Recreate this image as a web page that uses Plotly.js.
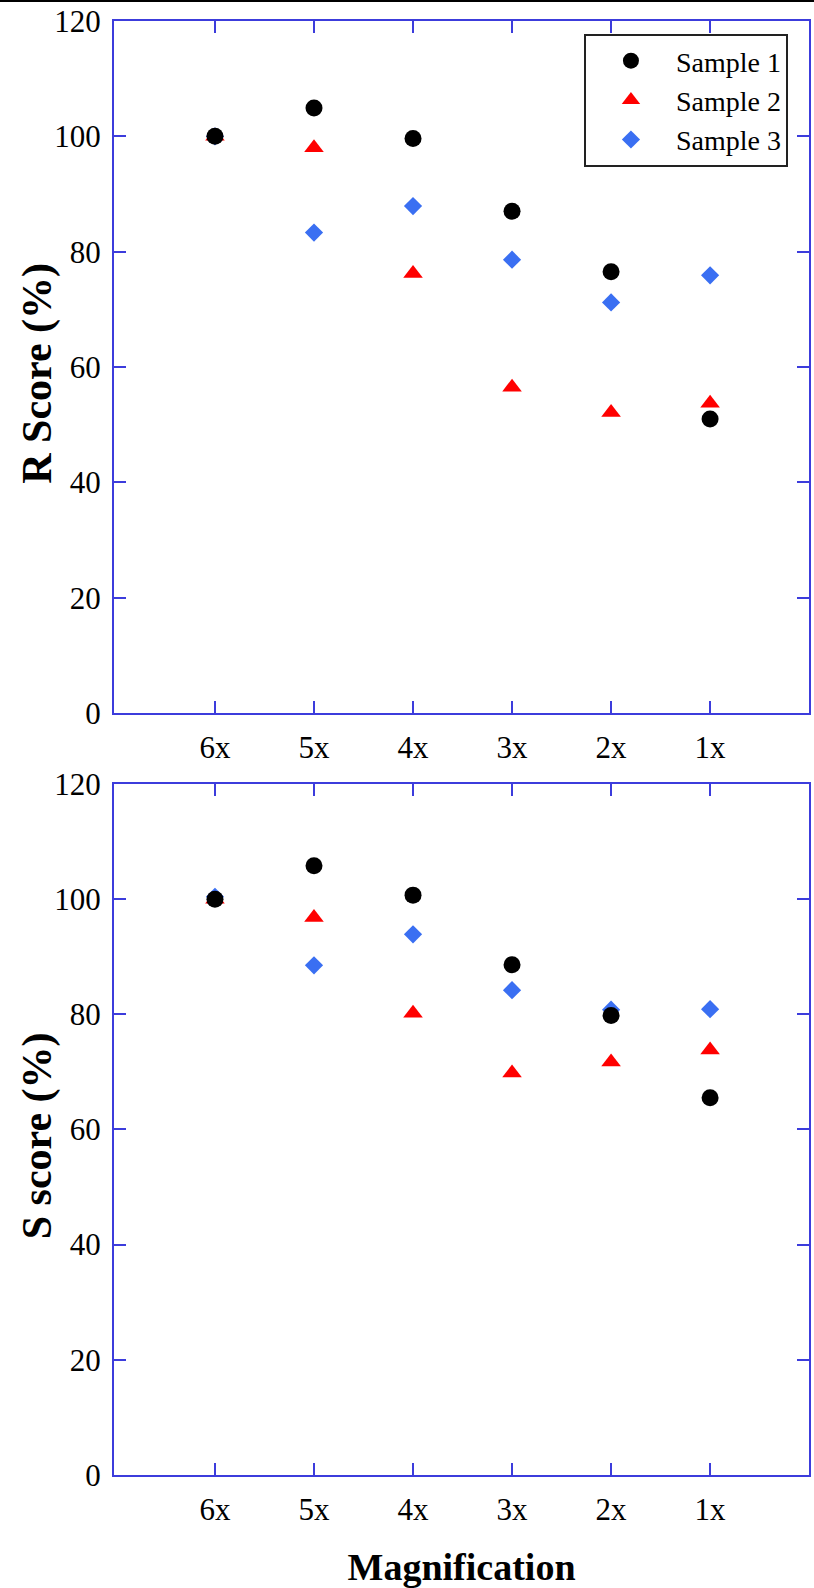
<!DOCTYPE html>
<html>
<head>
<meta charset="utf-8">
<script src="https://cdn.plot.ly/plotly-3.0.1.min.js"></script>
<style>
  html, body { margin: 0; padding: 0; background: #fff; }
  #graph { width: 814px; height: 1588px; }
</style>
</head>
<body>
<div id="graph"></div>
<script>
const magnifications = ["6x", "5x", "4x", "3x", "2x", "1x"]
const sampleNames = ["Sample 1", "Sample 2", "Sample 3"]

// R score (%) – upper panel
const rSample1 = [100, 104.9, 99.6, 87.0, 76.5, 51.0]
const rSample2 = [100, 98.0, 76.2, 56.5, 52.1, 53.7]
const rSample3 = [100, 83.3, 87.9, 78.6, 71.2, 75.9]

// S score (%) – lower panel
const sSample1 = [100, 105.8, 100.7, 88.6, 79.8, 65.5]
const sSample2 = [100, 96.8, 80.2, 69.8, 71.7, 73.8]
const sSample3 = [100.4, 88.5, 93.9, 84.2, 80.8, 80.9]

const yTicks = [0, 20, 40, 60, 80, 100, 120]

const serif = "Liberation Serif, Times New Roman, serif"
const frameBlue = "#3c3cdc"

const topDomain = [0.551, 0.9868]
const bottomDomain = [0.0712, 0.5063]

const markerStyles = [
  { symbol: "circle", color: "#000000", size: 17 },
  { symbol: "triangle-up", color: "#ff0000", size: 17 },
  { symbol: "diamond", color: "#3a6ff2", size: 14 },
]

function makeTraces(series, xa, ya, inLegend) {
  const traces = []
  // drawn 3, 2, 1 so the black circles sit on top
  for (let i = series.length - 1; i >= 0; i--) {
    const st = markerStyles[i]
    traces.push({
      x: magnifications,
      y: series[i],
      xaxis: xa,
      yaxis: ya,
      type: "scatter",
      mode: "markers",
      name: sampleNames[i],
      legendgroup: sampleNames[i],
      showlegend: inLegend,
      marker: { symbol: st.symbol, color: st.color, size: st.size, line: { width: 0 } },
      cliponaxis: false,
    })
  }
  return traces
}

const data = [
  ...makeTraces([rSample1, rSample2, rSample3], "x", "y", true),
  ...makeTraces([sSample1, sSample2, sSample3], "x2", "y2", false),
]

function xAxis(domain, anchor, title) {
  const ax = {
    domain: domain,
    anchor: anchor,
    type: "category",
    range: [-1.02, 6],
    showgrid: false,
    zeroline: false,
    showline: true,
    linecolor: frameBlue,
    linewidth: 2,
    mirror: "ticks",
    ticks: "inside",
    ticklen: 12,
    tickwidth: 2,
    tickcolor: frameBlue,
    ticklabelstandoff: 6,
    tickfont: { family: serif, size: 31, color: "#000" },
    fixedrange: true,
  }
  if (title) {
    ax.title = { text: title, font: { family: serif, size: 38, color: "#000", weight: "bold" }, standoff: 36 }
  }
  return ax
}

function yAxis(domain, anchor) {
  return {
    domain: domain,
    anchor: anchor,
    range: [0, 120],
    tickvals: yTicks,
    showgrid: false,
    zeroline: false,
    showline: true,
    linecolor: frameBlue,
    linewidth: 2,
    mirror: "ticks",
    ticks: "inside",
    ticklen: 12,
    tickwidth: 2,
    tickcolor: frameBlue,
    ticklabelstandoff: 5,
    tickfont: { family: serif, size: 31, color: "#000" },
    fixedrange: true,
  }
}

// y titles as rotated annotations so they sit close to the tick labels
function yTitle(text, domain) {
  return {
    text: text,
    xref: "paper",
    yref: "paper",
    x: 0.046,
    y: (domain[0] + domain[1]) / 2 - 0.004,
    xanchor: "center",
    yanchor: "middle",
    textangle: -90,
    showarrow: false,
    font: { family: serif, size: 42, color: "#000", weight: "bold" },
  }
}

const layout = {
  width: 814,
  height: 1588,
  margin: { l: 0, r: 0, t: 0, b: 0 },
  paper_bgcolor: "#fff",
  plot_bgcolor: "#fff",
  font: { family: serif, color: "#000" },
  xaxis: xAxis([0.140, 0.994], "y", null),
  yaxis: yAxis(topDomain, "x"),
  xaxis2: xAxis([0.140, 0.994], "y2", "Magnification"),
  yaxis2: yAxis(bottomDomain, "x2"),
  annotations: [yTitle("R Score (%)", topDomain), yTitle("S score (%)", bottomDomain)],
  legend: {
    x: 0.968,
    y: 0.9786,
    xanchor: "right",
    yanchor: "top",
    traceorder: "reversed",
    bgcolor: "#fff",
    bordercolor: "#222",
    borderwidth: 2,
    itemwidth: 80,
    font: { family: serif, size: 28, color: "#000" },
  },
  shapes: [
    {
      type: "line", xref: "paper", yref: "paper",
      x0: 0, x1: 1, y0: 0.9995, y1: 0.9995,
      line: { color: "#000", width: 2.5 },
    },
  ],
  showlegend: true,
}

Plotly.newPlot("graph", data, layout, { displayModeBar: false, staticPlot: true })
</script>
</body>
</html>
